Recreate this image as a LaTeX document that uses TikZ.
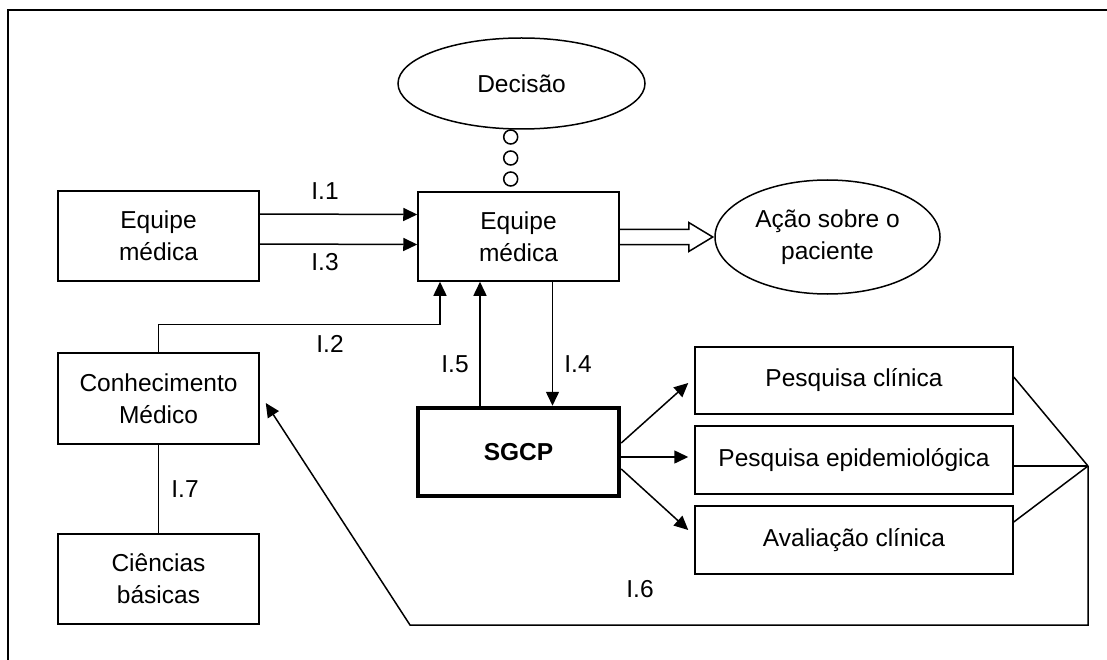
\documentclass[tikz,border=0pt]{standalone}
\usepackage{fontspec}
\setmainfont{Liberation Sans}
\usetikzlibrary{shapes.geometric,arrows.meta}
\begin{document}
\begin{tikzpicture}[x=1pt,y=-1pt,
  font=\fontsize{24.5}{32}\selectfont,
  box/.style={draw,line width=1.5pt,inner sep=0pt,align=center},
  oval/.style={draw,ellipse,line width=1.5pt,inner sep=0pt,align=center},
  conn/.style={line width=1.5pt},
  arr/.style={line width=1.5pt,-{Triangle[length=14pt,width=13pt]}},
  lbl/.style={anchor=base,inner sep=0pt},
  dot/.style={draw,circle,line width=1.5pt,minimum size=14pt,inner sep=0pt}]
\useasboundingbox (0,0) rectangle (1107,660);
% frame (cropped)
\draw[line width=2pt] (8,665) -- (8,10) -- (1112,10);
% nodes
\node[box,minimum width=201pt,minimum height=90pt] (le) at (158.5,236) {Equipe\\médica};
\node[box,minimum width=201pt,minimum height=89pt] (ce) at (518.5,236.5) {Equipe\\médica};
\node[oval,minimum width=247pt,minimum height=91pt] (de) at (521.5,83.5) {Decisão};
\node[oval,minimum width=225pt,minimum height=114pt] (ac) at (827.5,237) {Ação sobre o\\paciente};
\node[box,minimum width=201pt,minimum height=91pt] (co) at (158.5,398.5) {Conhecimento\\Médico};
\node[box,minimum width=201pt,minimum height=90pt] (ci) at (158.5,579) {Ciências\\básicas};
\node[box,line width=4.5pt,minimum width=201pt,minimum height=88pt,font=\fontsize{24.5}{32}\selectfont\bfseries] (sg) at (518.5,452) {SGCP};
\node[box,minimum width=318pt,minimum height=67pt] (pc) at (854,380.5) {Pesquisa clínica};
\node[box,minimum width=318pt,minimum height=68pt] (pe) at (854,460) {Pesquisa epidemiológica};
\node[box,minimum width=318pt,minimum height=68pt] (av) at (854,540) {Avaliação clínica};
% thought dots
\node[dot] (d1) at (510.7,137) {};
\node[dot] (d2) at (510.7,158) {};
\node[dot] (d3) at (510.7,179) {};
\coordinate (j) at (1088,466);
\coordinate (b1) at (1088,625);
\coordinate (b2) at (410,625);
% connectors
\draw[arr] ([yshift=22pt]le.east) -- ([yshift=22pt]ce.west);
\draw[arr] ([yshift=-8pt]le.east) -- ([yshift=-8pt]ce.west);
\draw[arr] (co.north) -- ++(0,-28) -| ([xshift=-78.5pt]ce.south);
\draw[arr] ([xshift=-38.5pt]sg.north) -- ([xshift=-38.5pt]ce.south);
\draw[arr] ([xshift=34pt]ce.south) -- ([xshift=34pt]sg.north);
\draw[arr] ([yshift=9pt]sg.east) -- ([xshift=-6pt,yshift=-2.5pt]pc.west);
\draw[arr] ([yshift=-5pt]sg.east) -- ([xshift=-6pt,yshift=3pt]pe.west);
\draw[arr] ([yshift=-17pt]sg.east) -- ([xshift=-6pt,yshift=10pt]av.west);
\draw[conn] ([yshift=3.5pt]pc.east) -- (j);
\draw[conn] ([yshift=-6pt]pe.east) -- (j);
\draw[conn] ([yshift=18pt]av.east) -- (j);
\draw[arr] (j) -- (b1) -- (b2) -- ([xshift=6pt,yshift=-4.5pt]co.east);
\draw[conn] (co.south) -- (ci.north);
% hollow arrow
\draw[line width=1.5pt,line join=miter] ([yshift=7pt]ce.east) -- ++(69,0) -- ++(0,-7) -- ++(24,14.5) -- ++(-24,14.5) -- ++(0,-7) -- ++(-69,0);
% labels
\node[lbl] at (325,200) {I.1};
\node[lbl] at (325,270) {I.3};
\node[lbl] at (330,352) {I.2};
\node[lbl] at (455,372) {I.5};
\node[lbl] at (578,372) {I.4};
\node[lbl] at (185,497) {I.7};
\node[lbl] at (640,597) {I.6};
\end{tikzpicture}
\end{document}
